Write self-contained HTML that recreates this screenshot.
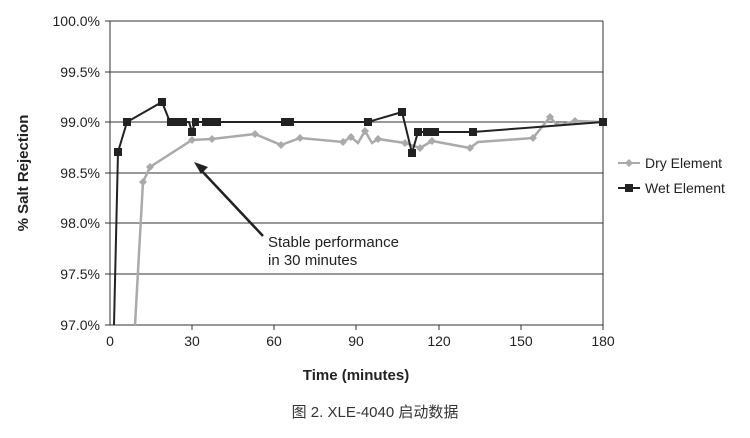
<!DOCTYPE html><html><head><meta charset="utf-8"><style>body{margin:0;background:#fff;width:750px;height:433px;overflow:hidden}</style></head><body>
<svg width="750" height="433" xmlns="http://www.w3.org/2000/svg" font-family="Liberation Sans, sans-serif">
<g stroke="#333" stroke-width="1">
<line x1="110" y1="21" x2="603" y2="21"/><line x1="110" y1="72" x2="603" y2="72"/><line x1="110" y1="122" x2="603" y2="122"/><line x1="110" y1="173" x2="603" y2="173"/><line x1="110" y1="223" x2="603" y2="223"/><line x1="110" y1="274" x2="603" y2="274"/><line x1="110" y1="325" x2="603" y2="325"/>
<line x1="110" y1="21" x2="110" y2="325"/><line x1="603" y1="21" x2="603" y2="325"/>
<line x1="105" y1="21" x2="110" y2="21"/><line x1="105" y1="72" x2="110" y2="72"/><line x1="105" y1="122" x2="110" y2="122"/><line x1="105" y1="173" x2="110" y2="173"/><line x1="105" y1="223" x2="110" y2="223"/><line x1="105" y1="274" x2="110" y2="274"/><line x1="105" y1="325" x2="110" y2="325"/>
<line x1="192" y1="325" x2="192" y2="330"/><line x1="274" y1="325" x2="274" y2="330"/><line x1="356" y1="325" x2="356" y2="330"/><line x1="439" y1="325" x2="439" y2="330"/><line x1="521" y1="325" x2="521" y2="330"/><line x1="603" y1="325" x2="603" y2="330"/>
</g>
<g font-size="14" fill="#222" text-anchor="end">
<text x="100" y="26">100.0%</text><text x="100" y="77">99.5%</text><text x="100" y="127">99.0%</text><text x="100" y="178">98.5%</text><text x="100" y="228">98.0%</text><text x="100" y="279">97.5%</text><text x="100" y="330">97.0%</text>
</g>
<g font-size="14" fill="#222" text-anchor="middle">
<text x="110" y="346">0</text><text x="192" y="346">30</text><text x="274" y="346">60</text><text x="356" y="346">90</text><text x="439" y="346">120</text><text x="521" y="346">150</text><text x="603" y="346">180</text>
</g>
<text x="356" y="380" font-size="15" font-weight="bold" text-anchor="middle" fill="#222">Time (minutes)</text>
<text transform="translate(28,173) rotate(-90)" font-size="15" font-weight="bold" text-anchor="middle" fill="#222">% Salt Rejection</text>
<polyline fill="none" stroke="#aaa" stroke-width="2.5" points="135,325 143,182 150,167 192,140 212,139 255,134 281,145 300,138 343,142 351,137 358,143 365,131 372,143 378,139 405,143 420,148 432,141 470,148 478,142 533,138 550,117 556,124 561,125 575,121 603,122"/>
<g fill="#aaa"><path d="M143,178l4,4l-4,4l-4,-4z"/><path d="M150,163l4,4l-4,4l-4,-4z"/><path d="M192,136l4,4l-4,4l-4,-4z"/><path d="M212,135l4,4l-4,4l-4,-4z"/><path d="M255,130l4,4l-4,4l-4,-4z"/><path d="M281,141l4,4l-4,4l-4,-4z"/><path d="M300,134l4,4l-4,4l-4,-4z"/><path d="M343,138l4,4l-4,4l-4,-4z"/><path d="M351,133l4,4l-4,4l-4,-4z"/><path d="M365,127l4,4l-4,4l-4,-4z"/><path d="M378,135l4,4l-4,4l-4,-4z"/><path d="M405,139l4,4l-4,4l-4,-4z"/><path d="M420,144l4,4l-4,4l-4,-4z"/><path d="M432,137l4,4l-4,4l-4,-4z"/><path d="M470,144l4,4l-4,4l-4,-4z"/><path d="M533,134l4,4l-4,4l-4,-4z"/><path d="M550,113l4,4l-4,4l-4,-4z"/><path d="M575,117l4,4l-4,4l-4,-4z"/></g>
<polyline fill="none" stroke="#222" stroke-width="2" points="114,325 118,152 127,122 162,102 170,122 189,122 192,132 195,122 290,122 368,122 402,112 412,153 418,132 473,132 603,122"/>
<g fill="#222"><rect x="114" y="148" width="8" height="8"/><rect x="123" y="118" width="8" height="8"/><rect x="158" y="98" width="8" height="8"/><rect x="167" y="118" width="20" height="8"/><rect x="188" y="128" width="8" height="8"/><rect x="192" y="118" width="7" height="8"/><rect x="202" y="118" width="19" height="8"/><rect x="281" y="118" width="13" height="8"/><rect x="364" y="118" width="8" height="8"/><rect x="398" y="108" width="8" height="8"/><rect x="408" y="149" width="8" height="8"/><rect x="414" y="128" width="8" height="8"/><rect x="423" y="128" width="8" height="8"/><rect x="431" y="128" width="8" height="8"/><rect x="469" y="128" width="8" height="8"/><rect x="599" y="118" width="8" height="8"/></g>
<line x1="263" y1="236" x2="200" y2="169" stroke="#222" stroke-width="2.5"/><path d="M194,162 l14,5 l-7,7z" fill="#222"/>
<text x="268" y="247" font-size="15" fill="#222">Stable performance</text><text x="268" y="265" font-size="15" fill="#222">in 30 minutes</text>
<line x1="618" y1="163" x2="640" y2="163" stroke="#aaa" stroke-width="2"/><path d="M629,159l4,4l-4,4l-4,-4z" fill="#aaa"/>
<text x="645" y="168" font-size="14" fill="#222">Dry Element</text>
<line x1="618" y1="188" x2="640" y2="188" stroke="#222" stroke-width="2"/><rect x="625" y="184" width="8" height="8" fill="#222"/>
<text x="645" y="193" font-size="14" fill="#222">Wet Element</text>
<text x="375" y="417" font-size="15" text-anchor="middle" fill="#333" font-family="Liberation Sans, Noto Sans CJK SC, sans-serif">图 2. XLE-4040 启动数据</text>
</svg></body></html>
